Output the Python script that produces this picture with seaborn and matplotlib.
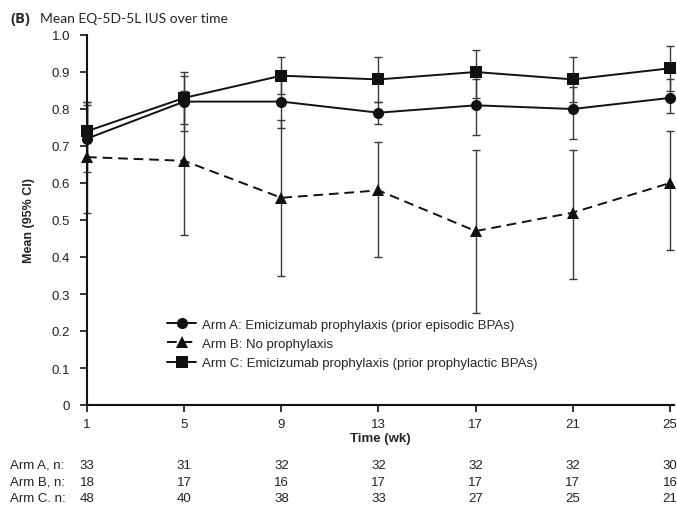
import matplotlib
matplotlib.use("Agg")
import matplotlib.pyplot as plt
import matplotlib.transforms as mtransforms
import seaborn as sns
import pandas as pd
import numpy as np

weeks = [1, 5, 9, 13, 17, 21, 25]
arm_names = ["Arm A: Emicizumab prophylaxis (prior episodic BPAs)",
             "Arm B: No prophylaxis",
             "Arm C: Emicizumab prophylaxis (prior prophylactic BPAs)"]
arm_a_mean = [0.72, 0.82, 0.82, 0.79, 0.81, 0.80, 0.83]
arm_a_low = [0.63, 0.74, 0.75, 0.76, 0.73, 0.72, 0.79]
arm_a_high = [0.81, 0.89, 0.88, 0.82, 0.88, 0.86, 0.88]
arm_b_mean = [0.67, 0.66, 0.56, 0.58, 0.47, 0.52, 0.60]
arm_b_low = [0.52, 0.46, 0.35, 0.40, 0.25, 0.34, 0.42]
arm_b_high = [0.82, 0.85, 0.77, 0.71, 0.69, 0.69, 0.74]
arm_c_mean = [0.74, 0.83, 0.89, 0.88, 0.90, 0.88, 0.91]
arm_c_low = [0.66, 0.76, 0.84, 0.82, 0.83, 0.82, 0.85]
arm_c_high = [0.82, 0.90, 0.94, 0.94, 0.96, 0.94, 0.97]
n_labels = ["Arm A, n:", "Arm B, n:", "Arm C. n:"]
arm_a_n = [33, 31, 32, 32, 32, 32, 30]
arm_b_n = [18, 17, 16, 17, 17, 17, 16]
arm_c_n = [48, 40, 38, 33, 27, 25, 21]
y_ticks = [0, 0.1, 0.2, 0.3, 0.4, 0.5, 0.6, 0.7, 0.8, 0.9, 1.0]
y_tick_labels = ["0", "0.1", "0.2", "0.3", "0.4", "0.5", "0.6", "0.7", "0.8", "0.9", "1.0"]

means = [arm_a_mean, arm_b_mean, arm_c_mean]
lows = [arm_a_low, arm_b_low, arm_c_low]
highs = [arm_a_high, arm_b_high, arm_c_high]
ns = [arm_a_n, arm_b_n, arm_c_n]

rows = []
for name, m in zip(arm_names, means):
    for w, v in zip(weeks, m):
        rows.append({"Week": w, "Mean": v, "Arm": name})
df = pd.DataFrame(rows)

sns.set_theme(style="white")
plt.rcParams["font.family"] = ["Liberation Sans", "DejaVu Sans"]

fig = plt.figure(figsize=(6.77, 5.06), dpi=100)
ax = fig.add_axes([87 / 677, 1 - 406 / 506, (674 - 87) / 677, (406 - 36) / 506])

# error bars
for m, lo, hi in zip(means, lows, highs):
    m = np.array(m); lo = np.array(lo); hi = np.array(hi)
    ax.errorbar(weeks, m, yerr=[m - lo, hi - m], fmt="none", ecolor="#3a3a3a",
                elinewidth=1.0, capsize=3, capthick=1.0, zorder=2, clip_on=False)

markers = {arm_names[0]: "o", arm_names[1]: "^", arm_names[2]: "s"}
dashes = {arm_names[0]: "", arm_names[1]: (5, 3), arm_names[2]: ""}
palette = {n: "#111111" for n in arm_names}
sns.lineplot(data=df, x="Week", y="Mean", hue="Arm", style="Arm",
             markers=markers, dashes=dashes, palette=palette,
             markersize=8, linewidth=1.4, markeredgewidth=0,
             ax=ax, zorder=3, legend=True, clip_on=False)

ax.set_xlim(1, 25.165)
ax.set_ylim(0, 1.0)
ax.set_xticks(weeks)
ax.set_xticklabels([str(w) for w in weeks], fontsize=9.5, color="#222222")
ax.set_yticks(y_ticks)
ax.set_yticklabels(y_tick_labels, fontsize=9.5, color="#222222")
ax.tick_params(axis="both", direction="out", length=5, width=1.2, color="#111111",
               bottom=True, left=True, pad=4)
ax.tick_params(axis="y", pad=7)
for s in ["top", "right"]:
    ax.spines[s].set_visible(False)
for s in ["left", "bottom"]:
    ax.spines[s].set_color("#111111")
    ax.spines[s].set_linewidth(1.5)
ax.grid(False)

ax.set_xlabel("Time (wk)", fontsize=9.5, fontweight="bold", labelpad=2)
ax.set_ylabel("Mean (95% CI)", fontsize=9, fontweight="bold", labelpad=12)

handles, labels = ax.get_legend_handles_labels()
leg = ax.legend(handles, labels, loc="upper left",
                bbox_to_anchor=(162 / 677, 1 - 314 / 506), bbox_transform=fig.transFigure,
                frameon=False, fontsize=9.5, handlelength=2.2, handletextpad=0.4,
                labelspacing=0.55, borderaxespad=0)

# title
fig.text(10 / 677, 1 - 19 / 506, "(B)", fontsize=10.5, fontweight="bold",
         family=["Open Sans", "DejaVu Sans"], va="center", ha="left")
fig.text(40 / 677, 1 - 19 / 506, "Mean EQ-5D-5L IUS over time", fontsize=10,
         family=["Lato", "DejaVu Sans"], va="center", ha="left")

# n table
trans = mtransforms.blended_transform_factory(ax.transData, fig.transFigure)
row_y = [466, 483, 499]
for lab, nvals, yy in zip(n_labels, ns, row_y):
    fig.text(10 / 677, 1 - yy / 506, lab, fontsize=9.5, va="center", ha="left", color="#222222")
    for w, nv in zip(weeks, nvals):
        ax.text(w, 1 - yy / 506, str(nv), transform=trans, fontsize=9.5,
                va="center", ha="center", color="#222222", clip_on=False)

fig.savefig("out.png", dpi=100)
